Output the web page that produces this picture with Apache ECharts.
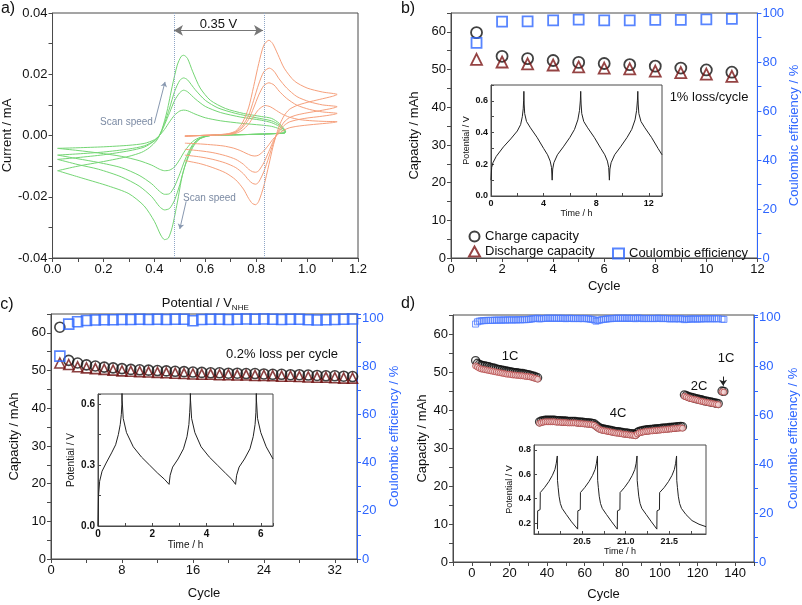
<!DOCTYPE html>
<html><head><meta charset="utf-8">
<script src="https://cdn.jsdelivr.net/npm/echarts@6/dist/echarts.min.js"></script>
<style>html,body{margin:0;padding:0;background:#fff}#c{width:802px;height:605px}</style>
</head><body><div id="c"></div>
<script>
// ---------- Panel a: cyclic voltammograms (potential V, current mA) ----------
const cvGreen1 = [[0.02,-0.0115],[0.1,-0.0100],[0.2,-0.0085],[0.3,-0.0068],[0.35,-0.0055],[0.38,-0.004],[0.41,-0.0015],[0.43,0.002],[0.45,0.008],[0.47,0.016],[0.49,0.023],[0.505,0.0258],[0.515,0.0262],[0.53,0.0252],[0.55,0.021],[0.58,0.0155],[0.62,0.0115],[0.68,0.0088],[0.75,0.0072],[0.82,0.0062],[0.86,0.0056],[0.89,0.004],[0.915,0.0012],[0.91,0.0008],[0.8,0.0004],[0.7,0.0002],[0.62,0.0],[0.57,-0.0015],[0.54,-0.005],[0.51,-0.013],[0.49,-0.022],[0.47,-0.030],[0.455,-0.0335],[0.44,-0.034],[0.425,-0.0325],[0.40,-0.028],[0.36,-0.023],[0.30,-0.019],[0.22,-0.0165],[0.12,-0.014],[0.02,-0.0115]];
const cvGreen2 = [[0.02,-0.0078],[0.1,-0.0072],[0.2,-0.0063],[0.3,-0.0050],[0.36,-0.0038],[0.40,-0.0018],[0.42,0.0],[0.44,0.004],[0.46,0.009],[0.48,0.0145],[0.50,0.018],[0.515,0.0188],[0.53,0.0182],[0.56,0.0150],[0.6,0.0115],[0.65,0.009],[0.72,0.0072],[0.8,0.0058],[0.86,0.0048],[0.89,0.0035],[0.915,0.0012],[0.91,0.0008],[0.8,0.0004],[0.7,0.0002],[0.62,0.0],[0.58,-0.001],[0.55,-0.004],[0.52,-0.010],[0.50,-0.016],[0.48,-0.021],[0.46,-0.0238],[0.44,-0.0243],[0.42,-0.0232],[0.39,-0.020],[0.34,-0.0165],[0.27,-0.0135],[0.18,-0.011],[0.1,-0.0095],[0.02,-0.0078]];
const cvGreen3 = [[0.02,-0.0064],[0.1,-0.006],[0.2,-0.0054],[0.3,-0.0044],[0.36,-0.0034],[0.40,-0.0017],[0.42,0.0],[0.44,0.0035],[0.46,0.0075],[0.48,0.0115],[0.50,0.014],[0.515,0.0148],[0.53,0.0143],[0.56,0.012],[0.6,0.0095],[0.66,0.0075],[0.74,0.006],[0.82,0.005],[0.86,0.0042],[0.89,0.003],[0.915,0.0012],[0.91,0.0008],[0.8,0.0004],[0.7,0.0002],[0.62,0.0],[0.58,-0.0008],[0.55,-0.003],[0.52,-0.008],[0.50,-0.0125],[0.48,-0.0165],[0.46,-0.019],[0.44,-0.0192],[0.42,-0.0182],[0.39,-0.0158],[0.34,-0.013],[0.27,-0.0105],[0.18,-0.0088],[0.1,-0.0076],[0.02,-0.0064]];
const cvGreen4 = [[0.02,-0.0042],[0.1,-0.004],[0.2,-0.0037],[0.3,-0.0032],[0.36,-0.0026],[0.40,-0.0014],[0.42,0.0],[0.44,0.002],[0.46,0.0045],[0.48,0.0067],[0.50,0.008],[0.515,0.0083],[0.53,0.0081],[0.56,0.007],[0.6,0.0058],[0.66,0.0048],[0.74,0.004],[0.82,0.0034],[0.86,0.003],[0.89,0.0022],[0.915,0.001],[0.91,0.0008],[0.8,0.0004],[0.7,0.0002],[0.62,0.0],[0.58,-0.0006],[0.55,-0.002],[0.52,-0.005],[0.50,-0.0078],[0.48,-0.0102],[0.46,-0.0113],[0.44,-0.0115],[0.42,-0.011],[0.39,-0.0097],[0.34,-0.0082],[0.27,-0.0068],[0.18,-0.0057],[0.1,-0.0049],[0.02,-0.0042]];
const cvOrange1 = [[0.52,-0.0003],[0.58,0.0],[0.64,0.0002],[0.69,0.0006],[0.72,0.0015],[0.745,0.004],[0.77,0.009],[0.79,0.016],[0.81,0.0235],[0.83,0.0295],[0.85,0.0311],[0.865,0.030],[0.885,0.0265],[0.91,0.022],[0.95,0.0178],[1.0,0.0155],[1.06,0.0142],[1.118,0.0134],[1.10,0.0128],[1.05,0.0118],[1.0,0.0108],[0.96,0.0098],[0.93,0.0085],[0.91,0.0065],[0.895,0.004],[0.88,0.0005],[0.865,-0.004],[0.85,-0.0095],[0.83,-0.0165],[0.81,-0.0215],[0.798,-0.0226],[0.785,-0.0222],[0.77,-0.0205],[0.75,-0.0175],[0.72,-0.0145],[0.68,-0.0122],[0.63,-0.0105],[0.58,-0.0092],[0.52,-0.0082]];
const cvOrange2 = [[0.52,-0.0002],[0.58,0.0],[0.64,0.0002],[0.69,0.0005],[0.72,0.0012],[0.745,0.003],[0.77,0.0065],[0.79,0.0115],[0.81,0.0168],[0.83,0.0208],[0.852,0.022],[0.87,0.021],[0.89,0.0185],[0.92,0.0155],[0.96,0.0127],[1.01,0.011],[1.06,0.0100],[1.118,0.0094],[1.10,0.0089],[1.05,0.0081],[1.0,0.0074],[0.96,0.0067],[0.93,0.0058],[0.91,0.0044],[0.895,0.0025],[0.88,0.0002],[0.865,-0.003],[0.85,-0.007],[0.83,-0.0118],[0.81,-0.0152],[0.798,-0.0159],[0.785,-0.0156],[0.77,-0.0145],[0.75,-0.0125],[0.72,-0.0105],[0.68,-0.009],[0.63,-0.0078],[0.58,-0.007],[0.52,-0.0064]];
const cvOrange3 = [[0.52,-0.0002],[0.58,0.0],[0.64,0.0002],[0.69,0.0004],[0.72,0.001],[0.745,0.0025],[0.77,0.0052],[0.79,0.009],[0.81,0.0132],[0.83,0.0163],[0.85,0.0172],[0.87,0.0165],[0.89,0.0145],[0.92,0.0121],[0.96,0.0099],[1.01,0.0085],[1.06,0.0077],[1.118,0.0072],[1.10,0.0068],[1.05,0.0062],[1.0,0.0057],[0.96,0.0051],[0.93,0.0044],[0.91,0.0033],[0.895,0.0018],[0.88,0.0002],[0.865,-0.0022],[0.85,-0.0052],[0.83,-0.0089],[0.81,-0.0115],[0.798,-0.012],[0.785,-0.0118],[0.77,-0.011],[0.75,-0.0094],[0.72,-0.0078],[0.68,-0.0066],[0.63,-0.0056],[0.58,-0.005],[0.52,-0.0045]];
const cvOrange4 = [[0.52,-0.0001],[0.58,0.0],[0.64,0.0001],[0.69,0.0003],[0.72,0.0007],[0.745,0.0017],[0.77,0.0037],[0.79,0.0062],[0.81,0.0085],[0.835,0.0098],[0.855,0.0094],[0.875,0.0084],[0.9,0.0071],[0.93,0.006],[0.97,0.0052],[1.02,0.0048],[1.07,0.0046],[1.118,0.0045],[1.10,0.0042],[1.05,0.0038],[1.0,0.0034],[0.96,0.003],[0.93,0.0025],[0.91,0.0018],[0.895,0.001],[0.88,0.0],[0.865,-0.0013],[0.85,-0.003],[0.83,-0.005],[0.81,-0.0064],[0.795,-0.0067],[0.78,-0.0065],[0.76,-0.0058],[0.74,-0.005],[0.71,-0.0041],[0.67,-0.0034],[0.62,-0.003],[0.57,-0.0027],[0.52,-0.0025]];
const cvPeakLines = [0.477, 0.827];
const cvArrowY = 0.0343;
const scanArrowUp = [[0.40,0.004],[0.442,0.0175]];
const scanArrowDown = [[0.525,-0.0215],[0.50,-0.0305]];

// ---------- Panel b ----------
const bCycles = [1,2,3,4,5,6,7,8,9,10,11];
const bCharge = [59.8,53.5,52.9,52.4,51.9,51.6,51.3,50.9,50.4,49.9,49.3];
const bDischarge = [52.7,52.0,51.5,51.2,50.7,50.4,50.2,49.6,49.2,48.8,48.2];
const bCE = [87.8,96.5,96.6,97.0,97.3,97.0,97.0,97.2,97.2,97.4,97.6];
const bInset = [[0,0.10],[0.05,0.18],[0.15,0.21],[0.4,0.25],[0.95,0.31],[1.5,0.36],[2.0,0.41],[2.25,0.45],[2.38,0.50],[2.45,0.55],[2.48,0.60],[2.5,0.66],[2.52,0.58],[2.56,0.52],[2.7,0.47],[3.0,0.43],[3.5,0.37],[4.0,0.30],[4.3,0.26],[4.5,0.22],[4.6,0.18],[4.65,0.10],[4.69,0.17],[4.78,0.21],[5.05,0.26],[5.5,0.31],[6.0,0.37],[6.35,0.42],[6.6,0.48],[6.73,0.54],[6.79,0.60],[6.82,0.66],[6.85,0.58],[6.9,0.52],[7.05,0.47],[7.35,0.43],[7.85,0.37],[8.35,0.30],[8.65,0.26],[8.85,0.22],[8.95,0.18],[9.0,0.10],[9.04,0.17],[9.13,0.21],[9.4,0.26],[9.85,0.31],[10.35,0.37],[10.7,0.42],[10.95,0.48],[11.07,0.54],[11.13,0.60],[11.16,0.66],[11.19,0.58],[11.24,0.52],[11.4,0.47],[11.7,0.43],[12.2,0.37],[12.7,0.30],[13.0,0.26]];

// ---------- Panel c ----------
const cCharge = [61.5,52.7,52.0,51.5,51.2,50.9,50.7,50.5,50.3,50.2,50.1,50.0,49.9,49.8,49.7,49.6,49.5,49.4,49.4,49.3,49.3,49.2,49.2,49.1,49.0,49.0,48.9,48.9,48.8,48.7,48.6,48.6,48.5,48.4];
const cDischarge = [52.0,51.6,51.0,50.7,50.5,50.3,50.1,49.9,49.8,49.7,49.6,49.5,49.4,49.3,49.2,49.1,49.0,49.0,48.9,48.9,48.8,48.8,48.7,48.7,48.6,48.5,48.5,48.4,48.3,48.2,48.2,48.1,48.0,48.0];
const cCE = [84.2,97.5,98.5,99.0,99.2,99.3,99.3,99.4,99.4,99.5,99.4,99.5,99.4,99.5,99.5,98.9,99.4,99.5,99.5,99.4,99.5,99.6,99.5,99.6,99.5,99.4,99.5,99.5,99.3,99.2,99.3,99.4,99.5,99.6];
const cInset = [[0,0.0],[0.02,0.15],[0.06,0.22],[0.15,0.27],[0.3,0.31],[0.5,0.36],[0.65,0.40],[0.75,0.45],[0.82,0.50],[0.86,0.55],[0.88,0.60],[0.885,0.70],[0.89,0.62],[0.93,0.53],[1.05,0.46],[1.3,0.39],[1.6,0.34],[1.9,0.30],[2.2,0.26],[2.45,0.23],[2.62,0.205],[2.64,0.2],[2.66,0.25],[2.75,0.29],[2.95,0.33],[3.15,0.38],[3.28,0.44],[3.35,0.50],[3.38,0.56],[3.40,0.61],[3.405,0.70],[3.41,0.62],[3.45,0.53],[3.57,0.46],[3.8,0.39],[4.1,0.34],[4.4,0.30],[4.7,0.26],[4.93,0.23],[5.07,0.205],[5.09,0.2],[5.11,0.25],[5.2,0.29],[5.4,0.33],[5.6,0.38],[5.72,0.44],[5.79,0.50],[5.82,0.56],[5.83,0.61],[5.835,0.70],[5.84,0.62],[5.88,0.53],[6.0,0.46],[6.2,0.39],[6.45,0.33]];

// ---------- Panel d ----------
const dSegStart = [2, 36, 113, 133];
const dCharge1C = [53.0,52.3,52.0,51.8,51.7,51.6,51.5,51.4,51.2,51.1,51.0,50.8,50.7,50.6,50.5,50.4,50.3,50.2,50.1,50.0,49.9,49.8,49.8,49.7,49.6,49.6,49.5,49.4,49.3,49.2,49.0,48.9,48.7,48.5];
const dDis1C = [51.6,51.3,51.0,50.8,50.7,50.6,50.5,50.4,50.3,50.2,50.1,50.0,49.9,49.8,49.7,49.6,49.5,49.4,49.4,49.3,49.2,49.2,49.1,49.1,49.0,49.0,48.9,48.8,48.8,48.7,48.6,48.4,48.3,48.1];
const dCharge4C = [36.9,37.1,37.2,37.3,37.3,37.3,37.3,37.3,37.3,37.2, 37.2,37.2,37.1,37.1,37.1,37.0,37.0,37.0,37.0,37.0, 36.9,36.9,36.8,36.8,36.7,36.7,36.6,36.6,36.5,36.4, 36.0,35.6,35.3,35.1,35.0,34.9,34.8,34.7,34.6,34.5, 34.4,34.3,34.3,34.2,34.1,34.0,34.0,33.9,33.8,33.8, 33.7,33.6,34.1,34.4,34.5,34.6,34.7,34.8,34.8,34.9, 34.9,35.0,35.0,35.1,35.1,35.2,35.2,35.3,35.3,35.4, 35.4,35.5,35.5,35.6,35.6,35.7,35.6];
const dDis4C = [36.5,36.7,36.8,36.9,36.9,36.9,36.9,36.9,36.9,36.8, 36.8,36.8,36.7,36.7,36.7,36.6,36.6,36.6,36.6,36.6, 36.5,36.5,36.4,36.4,36.3,36.3,36.2,36.2,36.1,36.0, 35.6,35.2,34.9,34.7,34.6,34.5,34.4,34.3,34.2,34.1, 34.0,33.9,33.9,33.8,33.7,33.6,33.6,33.5,33.4,33.4, 33.3,33.2,33.7,34.0,34.1,34.2,34.3,34.4,34.4,34.5, 34.5,34.6,34.6,34.7,34.7,34.8,34.8,34.9,34.9,35.0, 35.0,35.1,35.1,35.2,35.2,35.3,35.2];
const dCharge2C = [44.0,43.8,43.6,43.4,43.3,43.2,43.0,42.9,42.8,42.7,42.5,42.4,42.3,42.2,42.1,42.0,41.9,41.8,41.7];
const dDis2C = [43.6,43.4,43.2,43.0,42.9,42.8,42.7,42.6,42.4,42.3,42.2,42.1,42.0,41.9,41.8,41.7,41.6,41.5,41.4];
const dChargeEnd = [45.0,44.9];
const dDisEnd = [44.8,44.7];
const dCE1C = [97.3,98.2,98.5,98.6,98.7,98.7,98.8,98.8,98.8,98.8,98.9,98.9,98.9,98.9,98.9,99.0,98.9,99.0,99.0,99.0,99.0,99.0,99.0,99.1,99.0,99.1,99.1,99.1,99.2,99.3,99.4,99.5,99.6,99.7];
const dCE4C = [99.4,99.5,99.6,99.6,99.7,99.7,99.6,99.7,99.7,99.6, 99.7,99.6,99.7,99.6,99.5,99.6,99.7,99.6,99.5,99.6, 99.6,99.5,99.6,99.5,99.6,99.5,99.4,99.3,99.2,99.0, 98.5,98.7,98.9,99.1,99.2,99.3,99.4,99.5,99.5,99.6, 99.6,99.7,99.7,99.6,99.7,99.7,99.6,99.7,99.6,99.7, 99.6,99.5,99.8,99.7,99.6,99.5,99.6,99.6,99.5,99.6, 99.6,99.5,99.6,99.7,99.6,99.5,99.6,99.6,99.5,99.4, 99.5,99.5,99.4,99.5,99.4,99.5,99.4];
const dCE2C = [99.1,99.2,99.3,99.4,99.3,99.4,99.4,99.3,99.4,99.4,99.5,99.4,99.5,99.5,99.4,99.5,99.5,99.4,99.5];
const dCEEnd = [99.3,99.2];
const dInset = [[19.99,0.15],[19.992,0.30],[20.02,0.31],[20.022,0.45],[20.07,0.49],[20.12,0.54],[20.16,0.59],[20.19,0.64],[20.205,0.69],[20.217,0.75],[20.219,0.55],[20.227,0.49],[20.237,0.42],[20.252,0.36],[20.272,0.32],[20.32,0.27],[20.38,0.21],[20.45,0.15],
 [20.452,0.30],[20.48,0.31],[20.482,0.45],[20.53,0.49],[20.58,0.54],[20.62,0.59],[20.65,0.64],[20.665,0.69],[20.677,0.75],[20.679,0.55],[20.687,0.49],[20.697,0.42],[20.712,0.36],[20.732,0.32],[20.78,0.27],[20.84,0.21],[20.904,0.15],
 [20.906,0.30],[20.934,0.31],[20.936,0.45],[20.985,0.49],[21.035,0.54],[21.075,0.59],[21.105,0.64],[21.12,0.69],[21.13,0.75],[21.132,0.55],[21.14,0.49],[21.15,0.42],[21.165,0.36],[21.185,0.32],[21.235,0.27],[21.295,0.21],[21.357,0.15],
 [21.359,0.30],[21.387,0.31],[21.389,0.45],[21.44,0.49],[21.49,0.54],[21.53,0.59],[21.558,0.64],[21.572,0.69],[21.583,0.75],[21.585,0.55],[21.593,0.49],[21.603,0.42],[21.618,0.36],[21.638,0.32],[21.69,0.27],[21.76,0.22],[21.84,0.19],[21.92,0.17]];
const dArrow = [[133.6,48.8],[133.6,46.4]];

// ---------- helpers (styling only) ----------
const FONT = '"Liberation Sans", Arial, sans-serif';
const AXC = '#4a4a4a';
const BLUE = '#2e66ff';
function isMult(v, s){ const r = v / s; return Math.abs(r - Math.round(r)) < 1e-6; }
function merge(a, b){ const o = {}; for (const k in a) o[k] = a[k]; for (const k in b){ const bv = b[k], av = a[k]; if (bv && typeof bv === 'object' && !Array.isArray(bv) && av && typeof av === 'object' && !Array.isArray(av)) o[k] = merge(av, bv); else o[k] = bv; } return o; }
const base = {
  type:'value', nameLocation:'middle',
  axisLine:{show:true, onZero:false, lineStyle:{color:AXC, width:1}},
  axisTick:{show:true, inside:false, length:4, lineStyle:{color:AXC, width:1}},
  splitLine:{show:false},
  axisLabel:{color:'#111', fontSize:13, fontFamily:FONT, margin:5},
  nameTextStyle:{color:'#111', fontSize:13, fontFamily:FONT}
};
const inset = merge(base, {
  axisTick:{inside:true, length:3},
  axisLabel:{fontSize:9, fontWeight:'bold', margin:3},
  nameTextStyle:{fontSize:9}
});
const blueAx = {axisLine:{lineStyle:{color:BLUE}}, axisTick:{lineStyle:{color:BLUE}}, axisLabel:{color:BLUE}, nameTextStyle:{color:BLUE}};
const lab = (step, fmt, lo, hi) => ({formatter: v => (isMult(v, step) && (lo === undefined || (v >= lo - 1e-9 && v <= hi + 1e-9))) ? fmt(v) : ''});
const f0 = v => String(Math.round(v));
const f1 = v => v.toFixed(1);
const f2 = v => v.toFixed(2);
const gridBox = {show:true, borderColor:AXC, borderWidth:1, backgroundColor:'transparent', containLabel:false};

const grids = [
  merge(gridBox, {left:51, top:13, width:307, height:245}),
  merge(gridBox, {left:451, top:13, width:307, height:245}),
  merge(gridBox, {left:491, top:85, width:171, height:111, backgroundColor:'#fff'}),
  merge(gridBox, {left:51, top:314, width:306, height:245}),
  merge(gridBox, {left:98, top:394, width:175, height:132, backgroundColor:'#fff'}),
  merge(gridBox, {left:453, top:315, width:301, height:247}),
  merge(gridBox, {left:534, top:445, width:172, height:89, backgroundColor:'#fff'})
];

const xAxes = [
  merge(base, {gridIndex:0, min:0, max:1.2, interval:0.1, axisLabel:lab(0.2, f1), name:'Potential / V{s|NHE}', nameGap:37, nameTextStyle:{rich:{s:{fontSize:8, fontFamily:FONT, color:'#111', padding:[9,0,0,0]}}}}),
  merge(base, {gridIndex:1, min:0, max:12, interval:1, axisLabel:lab(2, f0), name:'Cycle', nameGap:22}),
  merge(inset, {gridIndex:2, min:0, max:13, interval:2, axisLabel:lab(4, f0), name:'Time / h', nameGap:12}),
  merge(base, {gridIndex:3, min:0, max:34.5, interval:4, axisLabel:lab(8, f0, 0, 32), name:'Cycle', nameGap:28}),
  merge(inset, {gridIndex:4, min:0, max:6.45, interval:1, axisLabel:merge(lab(2, f0, 0, 6), {fontSize:10}), name:'Time / h', nameGap:14, nameTextStyle:{fontSize:10}}),
  merge(base, {gridIndex:5, min:-10, max:150, interval:10, axisLabel:lab(20, f0, 0, 140), name:'Cycle', nameGap:26}),
  merge(inset, {gridIndex:6, min:19.95, max:21.92, axisLabel:{customValues:[20.5,21.0,21.5], formatter:f1}, axisTick:{customValues:[20.0,20.25,20.5,20.75,21.0,21.25,21.5,21.75]}, name:'Time / h', nameGap:12})
];
const yAxes = [
  merge(base, {gridIndex:0, min:-0.04, max:0.04, interval:0.01, axisLabel:lab(0.02, f2), name:'Current / mA', nameGap:34}),
  merge(base, {gridIndex:1, min:0, max:65, interval:5, axisLabel:lab(10, f0, 0, 60), name:'Capacity / mAh', nameGap:30}),
  merge(merge(base, blueAx), {gridIndex:1, position:'right', min:0, max:100, interval:10, axisLabel:lab(20, f0), name:'Coulombic efficiency / %', nameGap:30, nameRotate:90}),
  merge(inset, {gridIndex:2, min:0, max:0.7, interval:0.1, axisLabel:lab(0.2, f1), name:'Potential / V', nameGap:20}),
  merge(base, {gridIndex:3, min:0, max:65, interval:5, axisLabel:lab(10, f0, 0, 60), name:'Capacity / mAh', nameGap:30}),
  merge(merge(base, blueAx), {gridIndex:3, position:'right', min:0, max:101.7, interval:10, axisLabel:lab(20, f0, 0, 100), name:'Coulombic efficiency / %', nameGap:31, nameRotate:90}),
  merge(inset, {gridIndex:4, min:0, max:0.65, interval:0.15, axisLabel:merge(lab(0.3, f1), {fontSize:10}), name:'Potential / V', nameGap:22, nameTextStyle:{fontSize:10}}),
  merge(base, {gridIndex:5, min:0, max:65, interval:5, axisLabel:lab(10, f0, 0, 60), name:'Capacity / mAh', nameGap:24}),
  merge(merge(base, blueAx), {gridIndex:5, position:'right', min:0, max:101, interval:10, axisLabel:lab(20, f0, 0, 100), name:'Coulombic efficiency / %', nameGap:33, nameRotate:90}),
  merge(inset, {gridIndex:6, min:0.11, max:0.84, axisLabel:{customValues:[0.2,0.4,0.6,0.8], formatter:f1}, axisTick:{customValues:[0.2,0.4,0.6,0.8]}, name:'Potential / V', nameGap:20})
];

const GREEN = '#74d674', ORANGE = '#f6a07c';
function cvLine(d, c){ return {type:'line', xAxisIndex:0, yAxisIndex:0, data:d, showSymbol:false, smooth:0.25, lineStyle:{color:c, width:1}, silent:true, z:3}; }
function pairs(xs, ys){ return ys.map((v, i) => [xs[i], v]); }
function seg(start, vals){ return vals.map((v, i) => [start + i, v]); }
function hollow(name, xi, yi, data, sym, size, col, bw){
  return {name, type:'scatter', xAxisIndex:xi, yAxisIndex:yi, data, symbol:sym, symbolSize:size,
    itemStyle:{color:'rgba(255,255,255,0)', borderColor:col, borderWidth:bw}, silent:true, z:4};
}
function insetLine(xi, yi, d){ return {type:'line', xAxisIndex:xi, yAxisIndex:yi, data:d, showSymbol:false, lineStyle:{color:'#222', width:1}, silent:true, z:6}; }

const dCharge = [].concat(seg(dSegStart[0], dCharge1C), seg(dSegStart[1], dCharge4C), seg(dSegStart[2], dCharge2C), seg(dSegStart[3], dChargeEnd));
const dDis = [].concat(seg(dSegStart[0], dDis1C), seg(dSegStart[1], dDis4C), seg(dSegStart[2], dDis2C), seg(dSegStart[3], dDisEnd));
const dCE = [].concat(seg(dSegStart[0], dCE1C), seg(dSegStart[1], dCE4C), seg(dSegStart[2], dCE2C), seg(dSegStart[3], dCEEnd));

const series = [
  cvLine(cvGreen1, GREEN), cvLine(cvGreen2, GREEN), cvLine(cvGreen3, GREEN), cvLine(cvGreen4, GREEN),
  cvLine(cvOrange1, ORANGE), cvLine(cvOrange2, ORANGE), cvLine(cvOrange3, ORANGE), cvLine(cvOrange4, ORANGE),
  {type:'line', xAxisIndex:0, yAxisIndex:0, data:[], silent:true, z:2,
    markLine:{silent:true, symbol:'none', animation:false, label:{show:false}, lineStyle:{type:'dotted', color:'#8fa6c6', width:1},
      data: cvPeakLines.map(v => ({xAxis:v}))}},
  {type:'line', xAxisIndex:0, yAxisIndex:0, data:[], silent:true, z:5,
    markLine:{silent:true, animation:false, symbol:['arrow','arrow'], symbolSize:[8,9], lineStyle:{type:'solid', color:'#777', width:1},
      label:{show:true, position:'insideMiddleTop', formatter:'0.35 V', color:'#111', fontSize:13, fontFamily:FONT, distance:0},
      data:[[{coord:[cvPeakLines[0], cvArrowY]}, {coord:[cvPeakLines[1], cvArrowY]}]]}},
  {type:'line', xAxisIndex:0, yAxisIndex:0, data:[], silent:true, z:5,
    markLine:{silent:true, animation:false, symbol:['none','arrow'], symbolSize:5, label:{show:false}, lineStyle:{type:'solid', color:'#8898b0', width:1},
      data:[[{coord:scanArrowUp[0]}, {coord:scanArrowUp[1]}], [{coord:scanArrowDown[0]}, {coord:scanArrowDown[1]}]]}},

  hollow('Charge capacity', 1, 1, pairs(bCycles, bCharge), 'circle', 11, '#111', 1.8),
  hollow('Discharge capacity', 1, 1, pairs(bCycles, bDischarge), 'triangle', 11, '#7a1414', 1.8),
  hollow('Coulombic efficiency', 1, 2, pairs(bCycles, bCE), 'rect', 10, BLUE, 1.8),
  insetLine(2, 3, bInset),

  hollow('c charge', 3, 4, seg(1, cCharge), 'circle', 10, '#111', 1.6),
  hollow('c discharge', 3, 4, seg(1, cDischarge), 'triangle', 10, '#6e1010', 1.6),
  hollow('c CE', 3, 5, seg(1, cCE), 'rect', 10, BLUE, 1.6),
  insetLine(4, 6, cInset),

  hollow('d charge', 5, 7, dCharge, 'circle', 8, '#111', 1.3),
  {name:'d discharge', type:'scatter', xAxisIndex:5, yAxisIndex:7, data:dDis, symbol:'circle', symbolSize:6,
    itemStyle:{color:'#f2d4d4', borderColor:'#b54a4a', borderWidth:1}, silent:true, z:5},
  hollow('d CE', 5, 8, dCE, 'rect', 6, '#4d7bff', 1),
  insetLine(6, 9, dInset),
  {type:'line', xAxisIndex:5, yAxisIndex:7, data:[], silent:true, z:5,
    markLine:{silent:true, animation:false, symbol:['none','arrow'], symbolSize:6, label:{show:false}, lineStyle:{type:'solid', color:'#222', width:1},
      data:[[{coord:dArrow[0]}, {coord:dArrow[1]}]]}}
];

const txt = (x, y, t, size, extra) => merge({type:'text', x, y, silent:true, z:50, style:{text:t, fill:'#111', font: size + 'px ' + FONT, align:'center', verticalAlign:'middle'}}, extra || {});
const graphic = [
  txt(8, 9, 'a)', 16),
  txt(408, 9, 'b)', 16),
  txt(7, 305, 'c)', 16),
  txt(408, 304, 'd)', 16),
  txt(126.5, 122, 'Scan speed', 10, {style:{fill:'#7b8aa3'}}),
  txt(209.5, 198, 'Scan speed', 10, {style:{fill:'#7b8aa3'}}),
  txt(709, 97, '1% loss/cycle', 13),
  txt(282, 354, '0.2% loss per cycle', 13),
  txt(510, 356, '1C', 13),
  txt(618, 413, '4C', 13),
  txt(699, 386, '2C', 13),
  txt(726, 358, '1C', 13)
];

const chart = echarts.init(document.getElementById('c'), null, {renderer:'canvas'});
chart.setOption({
  animation:false,
  backgroundColor:'#fff',
  textStyle:{fontFamily:FONT},
  grid: grids, xAxis: xAxes, yAxis: yAxes, series, graphic,
  legend:[
    {data:['Charge capacity','Discharge capacity'], orient:'vertical', left:463, top:225, itemGap:2, itemWidth:11, itemHeight:10, selectedMode:false, textStyle:{fontSize:13, fontFamily:FONT, color:'#111'}},
    {data:['Coulombic efficiency'], orient:'horizontal', left:607, top:242, itemWidth:11, itemHeight:10, itemGap:4, selectedMode:false, textStyle:{fontSize:13, fontFamily:FONT, color:'#111'}}
  ]
});
</script></body></html>
